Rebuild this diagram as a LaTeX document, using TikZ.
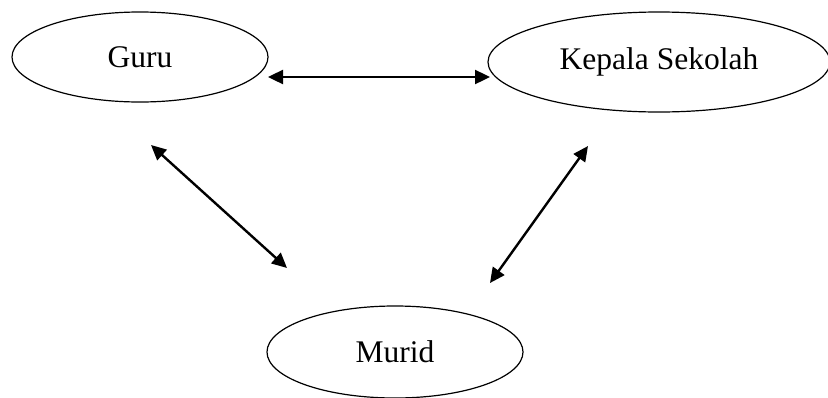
\documentclass[tikz,border=0pt]{standalone}
\usepackage{fontspec}
\setmainfont{Liberation Serif}
\usetikzlibrary{shapes.geometric}
\usetikzlibrary{arrows.meta}
\usetikzlibrary{positioning}

\begin{document}
\begin{tikzpicture}[x=1pt,y=-1pt,
  every node/.style={draw,ellipse,line width=1.2pt,inner sep=0pt,font=\fontsize{31.5}{36}\selectfont},
  biarrow/.style={line width=2.4pt,{Triangle[length=15pt,width=14pt]}-{Triangle[length=15pt,width=14pt]}}]
\useasboundingbox (0,0) rectangle (828,397);
  \node (guru) at (140,57)[minimum width=256pt,minimum height=90pt]{Guru};
  \node (kepsek) at (659,62)[minimum width=342pt,minimum height=100pt]{Kepala Sekolah};
  \node (murid) at (395,352)[minimum width=256pt,minimum height=92pt]{Murid};
\coordinate (g1) at (268,77);
\coordinate (k1) at (490,77);
\coordinate (g2) at (151,145);
\coordinate (m1) at (287,268);
\coordinate (k2) at (588,146);
\coordinate (m2) at (490,283);
  \draw[biarrow](g1)--(k1);
  \draw[biarrow](g2)--(m1);
  \draw[biarrow](k2)--(m2);
  \end{tikzpicture}
\end{document}
